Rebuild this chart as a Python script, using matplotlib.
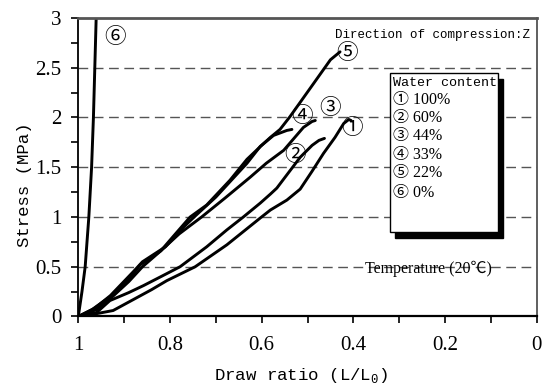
import matplotlib as mpl
mpl.use('Agg')
import matplotlib.pyplot as plt
from matplotlib import ticker
from matplotlib.patches import Rectangle
import numpy as np

# draw ratio / stress pairs, one per water content
ratio_100 = [1.0, 0.97, 0.924, 0.88, 0.84, 0.807, 0.745, 0.676, 0.603, 0.581, 0.545, 0.516, 0.49, 0.465, 0.44, 0.421, 0.41, 0.405]
stress_100 = [0.0, 0.02, 0.06, 0.17, 0.27, 0.36, 0.50, 0.72, 0.99, 1.07, 1.17, 1.28, 1.46, 1.64, 1.80, 1.94, 1.98, 1.97]

ratio_60 = [1.0, 0.96, 0.931, 0.89, 0.858, 0.82, 0.778, 0.72, 0.676, 0.64, 0.603, 0.581, 0.567, 0.516, 0.49, 0.475, 0.463]
stress_60 = [0.0, 0.04, 0.16, 0.24, 0.31, 0.40, 0.50, 0.70, 0.87, 1.0, 1.14, 1.23, 1.29, 1.60, 1.72, 1.77, 1.79]

ratio_44 = [1.0, 0.96, 0.93, 0.89, 0.86, 0.82, 0.78, 0.731, 0.68, 0.625, 0.59, 0.552, 0.509, 0.49, 0.483]
stress_44 = [0.0, 0.07, 0.18, 0.35, 0.50, 0.66, 0.83, 1.0, 1.19, 1.40, 1.54, 1.67, 1.90, 1.96, 1.97]

ratio_33 = [1.0, 0.965, 0.93, 0.88, 0.86, 0.84, 0.81, 0.77, 0.745, 0.70, 0.66, 0.632, 0.603, 0.574, 0.545, 0.534]
stress_33 = [0.0, 0.08, 0.21, 0.45, 0.55, 0.61, 0.70, 0.90, 1.01, 1.20, 1.40, 1.54, 1.71, 1.82, 1.87, 1.88]

ratio_22 = [1.0, 0.97, 0.93, 0.89, 0.865, 0.845, 0.82, 0.79, 0.756, 0.72, 0.669, 0.632, 0.60, 0.581, 0.56, 0.538, 0.487, 0.45, 0.429]
stress_22 = [0.0, 0.07, 0.20, 0.37, 0.52, 0.58, 0.66, 0.82, 1.0, 1.12, 1.37, 1.58, 1.72, 1.80, 1.88, 2.01, 2.34, 2.58, 2.66]

ratio_0 = [1.0, 0.992, 0.985, 0.977, 0.971, 0.967, 0.964, 0.961]
stress_0 = [0.0, 0.25, 0.5, 1.0, 1.5, 2.0, 2.5, 3.0]

curves = [(ratio_100, stress_100), (ratio_60, stress_60), (ratio_44, stress_44),
          (ratio_33, stress_33), (ratio_22, stress_22), (ratio_0, stress_0)]

marks = ["①", "②", "③", "④", "⑤", "⑥"]
contents = ["100%", "60%", "44%", "33%", "22%", "0%"]
# where each circled number sits next to its curve
mark_x = [0.403, 0.527, 0.45, 0.512, 0.414, 0.92]
mark_y = [1.89, 1.62, 2.095, 2.01, 2.645, 2.81]

mono = ['Liberation Mono', 'Noto Sans CJK SC']
serif = ['Liberation Serif', 'Noto Sans CJK SC']
circ = ['Noto Sans CJK JP', 'DejaVu Sans']

fig = plt.figure(figsize=(5.46, 3.87), dpi=100)
ax = fig.add_axes([0.1434, 0.1822, 0.8396, 0.7713])

for xs, ys in curves:
    ax.plot(xs, ys, color='black', lw=2.1, solid_capstyle='round', solid_joinstyle='round')

for m, x, y in zip(marks, mark_x, mark_y):
    ax.text(x, y, m, family=circ, fontsize=15.5, ha='center', va='center')

ax.set_xlim(1, 0)
ax.set_ylim(0, 3)
ax.xaxis.set_major_locator(ticker.MultipleLocator(0.2))
ax.xaxis.set_minor_locator(ticker.MultipleLocator(0.1))
ax.yaxis.set_major_locator(ticker.MultipleLocator(0.5))
ax.yaxis.set_minor_locator(ticker.MultipleLocator(0.25))
ax.xaxis.set_major_formatter(ticker.FuncFormatter(lambda v, _: f"{v:g}"))
ax.yaxis.set_major_formatter(ticker.FuncFormatter(lambda v, _: f"{v:g}"))
ax.tick_params(which='both', direction='out', length=5, width=1.2, color='black')
ax.tick_params(axis='x', which='major', pad=9)
ax.tick_params(axis='y', which='major', pad=7)
for lab in ax.get_xticklabels() + ax.get_yticklabels():
    lab.set_family(serif)
    lab.set_fontsize(15)

for y in [0.5, 1.0, 1.5, 2.0, 2.5]:
    ax.axhline(y, color='#555555', lw=1.0, dashes=(7, 4), zorder=0)

ax.spines['left'].set_linewidth(1.3)
ax.spines['bottom'].set_linewidth(1.6)
ax.spines['top'].set_linewidth(2.0)
ax.spines['top'].set_color('#555555')
ax.spines['right'].set_linewidth(1.2)
ax.spines['right'].set_color('#444444')

ax.set_xlabel(r"Draw ratio (L/L$_\mathregular{0}$)", family=mono, fontsize=12.5)
ax.set_ylabel("Stress (MPa)", family=mono, fontsize=12.5)
ax.xaxis.set_label_coords(0.486, -0.165)
ax.yaxis.set_label_coords(-0.10, 0.44)

ax.text(0.0137, 2.83, "Direction of compression:Z", family=mono, fontsize=9,
        ha='right', va='center')
ax.text(0.2365, 0.477, "Temperature (20℃)", family=serif, fontsize=11.5,
        ha='center', va='center')

# legend box with a solid drop shadow
bx0, by0, bw, bh = 0.680, 0.284, 0.2356, 0.5328
ax.add_patch(Rectangle((bx0 + 0.011, by0 - 0.02), bw, bh, transform=ax.transAxes,
                       facecolor='black', edgecolor='black', zorder=4))
ax.add_patch(Rectangle((bx0, by0), bw, bh, transform=ax.transAxes,
                       facecolor='white', edgecolor='black', lw=1.0, zorder=5))
ax.text(bx0 + 0.006, 0.7835, "Water content", family=mono, fontsize=9.6,
        transform=ax.transAxes, ha='left', va='center', zorder=6)
row_y = [0.724, 0.666, 0.605, 0.542, 0.480, 0.413]
for m, c, y in zip(marks, contents, row_y):
    ax.text(bx0 + 0.006, y, f"{m} {c}", family=serif, fontsize=11.5,
            transform=ax.transAxes, ha='left', va='center', zorder=6)

fig.savefig("out.png", dpi=100)
